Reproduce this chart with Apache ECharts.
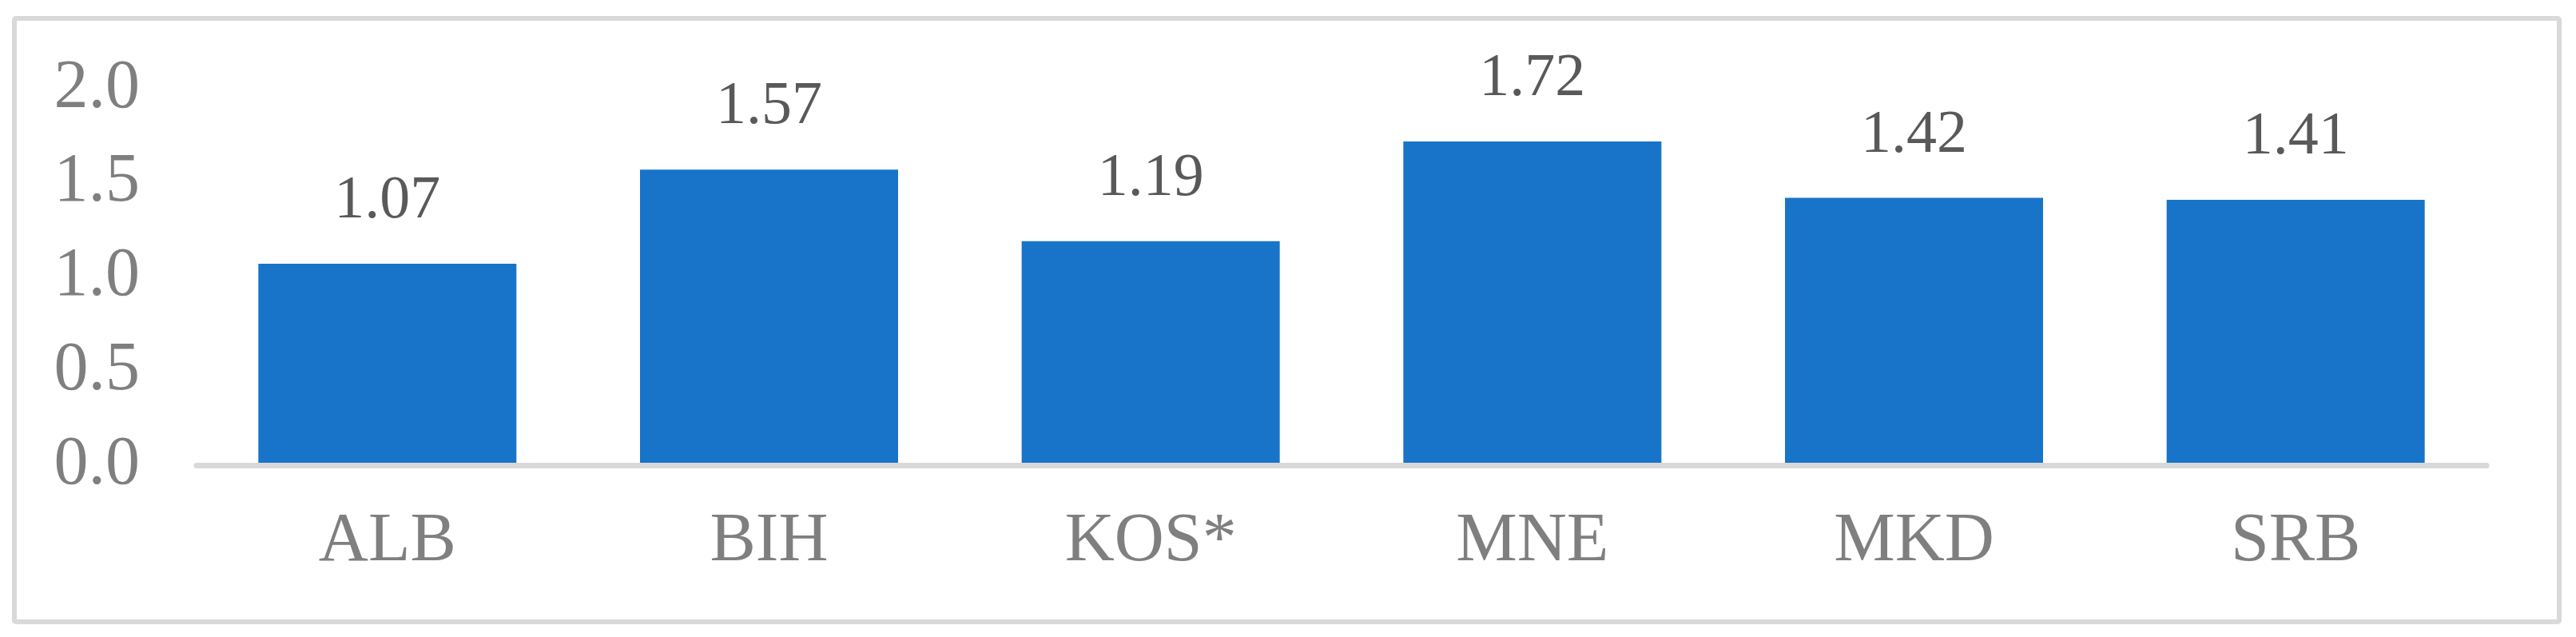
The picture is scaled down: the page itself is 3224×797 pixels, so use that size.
<!DOCTYPE html>
<html>
<head>
<meta charset="utf-8">
<script src="https://cdn.jsdelivr.net/npm/echarts@6/dist/echarts.min.js"></script>
<style>
    html, body {
        margin: 0;
        padding: 0;
        background: #ffffff;
    }
    #chart {
        width: 3224px;
        height: 797px;
    }
</style>
</head>
<body>
<div id="chart"></div>
<script>
const categories = ['ALB', 'BIH', 'KOS*', 'MNE', 'MKD', 'SRB'];
const values = [1.07, 1.57, 1.19, 1.72, 1.42, 1.41];
const yTicks = [0, 0.5, 1.0, 1.5, 2.0];

const chart = echarts.init(document.getElementById('chart'));

const option = {
    animation: false,
    backgroundColor: '#ffffff',
    textStyle: {
        fontFamily: '"Liberation Serif", "Times New Roman", serif'
    },
    graphic: [
        {
            type: 'rect',
            shape: { x: 18, y: 23, width: 3185, height: 755, r: 2 },
            style: { fill: 'none', stroke: '#d9d9d9', lineWidth: 6 },
            z: -1
        }
    ],
    grid: {
        left: 246,
        right: 112,
        top: 111,
        bottom: 215,
        containLabel: false
    },
    xAxis: {
        type: 'category',
        data: categories,
        z: 3,
        axisLine: {
            show: true,
            lineStyle: { color: '#d9d9d9', width: 7 }
        },
        axisTick: { show: false },
        axisLabel: {
            color: '#7f7f7f',
            fontSize: 86,
            margin: 53,
            fontFamily: '"Liberation Serif", "Times New Roman", serif'
        }
    },
    yAxis: {
        type: 'value',
        min: yTicks[0],
        max: yTicks[yTicks.length - 1],
        interval: 0.5,
        axisLine: { show: false },
        axisTick: { show: false },
        splitLine: { show: false },
        axisLabel: {
            color: '#7f7f7f',
            fontSize: 86,
            margin: 71,
            fontFamily: '"Liberation Serif", "Times New Roman", serif',
            formatter: function (v) {
                return v.toFixed(1);
            }
        }
    },
    series: [
        {
            type: 'bar',
            data: values,
            barWidth: 323,
            itemStyle: { color: '#1874c8' },
            label: {
                show: true,
                position: 'top',
                distance: 40,
                color: '#595959',
                fontSize: 76,
                fontFamily: '"Liberation Serif", "Times New Roman", serif',
                formatter: function (p) {
                    return p.value.toFixed(2);
                }
            }
        }
    ]
};

chart.setOption(option);
</script>
</body>
</html>
